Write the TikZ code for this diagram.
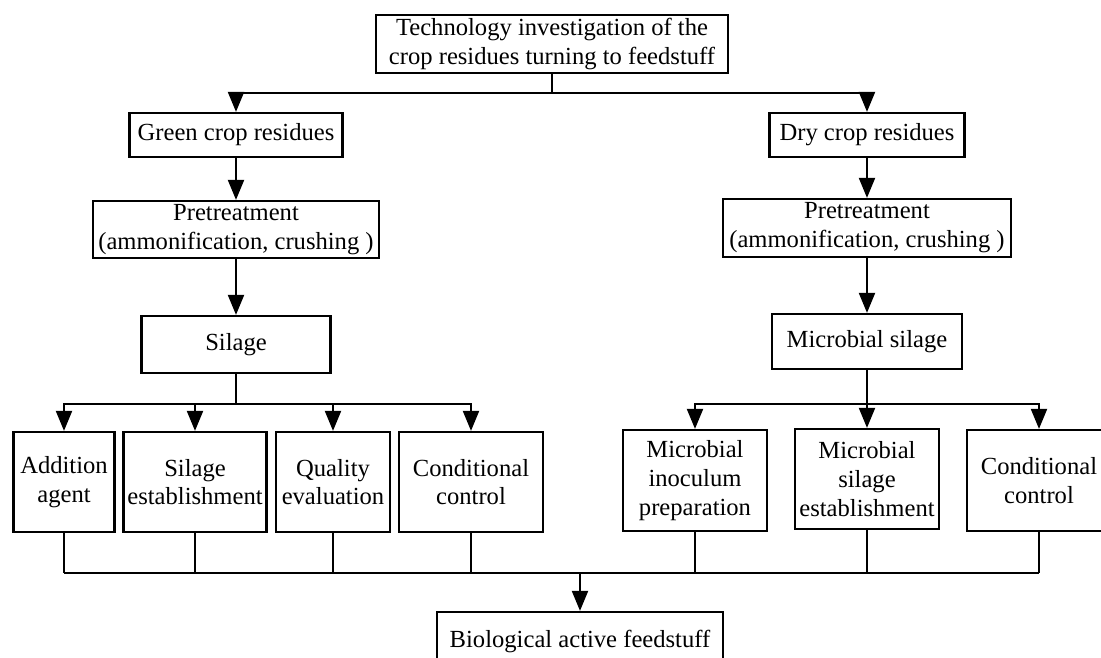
\documentclass[tikz,border=0pt]{standalone}
\usepackage{fontspec}
\setmainfont{Liberation Serif}
\usetikzlibrary{arrows.meta}
\begin{document}
\begin{tikzpicture}[
		every node/.style={font=\fontsize{17.5}{20.5}\selectfont},
		box/.style={draw,line width=1.6pt,align=center,inner sep=0pt},
		line/.style={line width=1.5pt},
		arr/.style={line width=1.5pt,-{Triangle[length=0.5cm,width=0.4cm]}}]
		\useasboundingbox (0,0) rectangle (27.525,-16.45);
		% top level
		\node[box,minimum width=8.8cm,minimum height=1.45cm] (tech) at (13.8,-1.1) {Technology investigation of the\\crop residues turning to feedstuff};
		\coordinate (b1) at (0,-2.325);
		\node[box,minimum width=5.325cm,minimum height=1.1cm] (green) at (5.9,-3.375) {Green crop residues};
		\node[box,minimum width=4.875cm,minimum height=1.1cm] (dry) at (21.675,-3.375) {Dry crop residues};
		\draw[arr] (tech.south) -- (tech.south |- b1) -| (green.north);
		\draw[arr] (tech.south) -- (tech.south |- b1) -| (dry.north);
		% pretreatment
		\node[box,minimum width=7.15cm,minimum height=1.425cm] (pre1) at (5.9,-5.7375) {Pretreatment\\(ammonification, crushing )};
		\node[box,minimum width=7.2cm,minimum height=1.45cm] (pre2) at (21.675,-5.7) {Pretreatment\\(ammonification, crushing )};
		\draw[arr] (green) -- (pre1);
		\draw[arr] (dry) -- (pre2);
		\node[box,minimum width=4.725cm,minimum height=1.425cm] (sil) at (5.9,-8.6125) {Silage};
		\node[box,minimum width=4.75cm,minimum height=1.375cm] (msil) at (21.675,-8.5375) {Microbial silage};
		\draw[arr] (pre1) -- (sil);
		\draw[arr] (pre2) -- (msil);
		% branches
		\coordinate (b2) at (0,-10.1);
		\node[box,minimum width=2.525cm,minimum height=2.5cm] (add) at (1.6,-12.05) {Addition\\agent};
		\node[box,minimum width=3.575cm,minimum height=2.5cm] (sest) at (4.875,-12.05) {Silage\\establishment};
		\node[box,minimum width=2.85cm,minimum height=2.5cm] (qual) at (8.325,-12.05) {Quality\\evaluation};
		\node[box,minimum width=3.6cm,minimum height=2.5cm] (cc1) at (11.775,-12.05) {Conditional\\control};
		\node[box,minimum width=3.6cm,minimum height=2.525cm] (minoc) at (17.375,-12.0125) {Microbial\\inoculum\\preparation};
		\node[box,minimum width=3.6cm,minimum height=2.5cm] (mest) at (21.675,-11.975) {Microbial\\silage\\establishment};
		\node[box,minimum width=3.6cm,minimum height=2.525cm] (cc2) at (25.975,-12.0125) {Conditional\\control};
		\foreach \n in {add,sest,qual,cc1}
			\draw[arr] (sil.south) -- (sil.south |- b2) -| (\n.north);
		\foreach \n in {minoc,mest,cc2}
			\draw[arr] (msil.south) -- (msil.south |- b2) -| (\n.north);
		% collect
		\coordinate (b3) at (0,-14.325);
		\node[box,minimum width=7.15cm,minimum height=1.45cm] (bio) at (14.5,-16.025) {Biological active feedstuff};
		\foreach \n in {add,sest,qual,cc1,minoc,mest,cc2}
			\draw[line] (\n.south) -- (\n.south |- b3);
		\draw[line] (add.south |- b3) -- (cc2.south |- b3);
		\draw[arr] (bio.north |- b3) -- (bio.north);
\end{tikzpicture}
\end{document}
